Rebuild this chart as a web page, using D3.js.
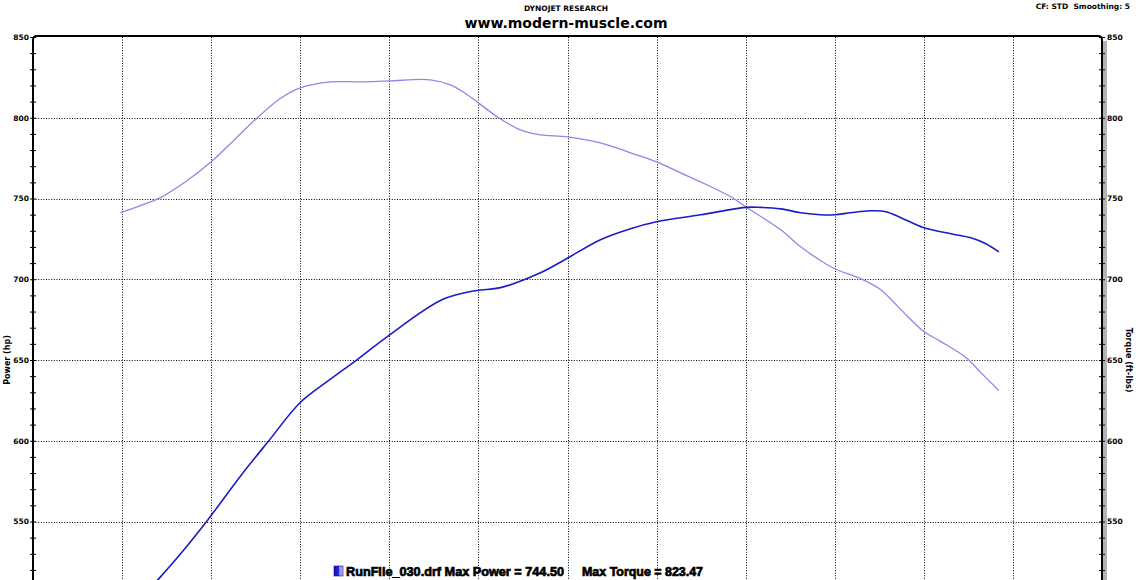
<!DOCTYPE html>
<html><head><meta charset="utf-8">
<script src="https://cdn.jsdelivr.net/npm/d3@7"></script>
<style>
body{margin:0;background:#fff}
svg{display:block;background:#fff}
text{font-family:"DejaVu Sans",Verdana,sans-serif;font-weight:bold;fill:#000}
</style>
</head><body><svg id="c" width="1140" height="580"></svg>
<script>
// ---- data ----
const torqueRpm = [1490,1600,1713,1854,2000,2135,2264,2388,2500,2669,2837,3000,3230,3343,3427,3500,3607,3736,3848,4000,4185,4354,4500,4635,4747,4916,5000,5197,5309,5421,5500,5646,5758,5871,6000,6096,6236,6320,6421];
const torqueFtLbs = [741.2,745.5,750.4,760.2,772.7,786.9,800.5,811.9,818.5,822.2,822.2,822.8,823.5,820.3,815.0,809.2,800.5,792.5,789.4,788.2,784.4,778.3,772.7,765.9,760.3,751.1,744.9,730.6,720.1,711.5,706.5,700.3,693.5,681.2,667.6,661.4,651.5,642.2,631.1];
const powerRpm = [1490,1600,1713,1826,1983,2163,2320,2500,2652,2820,2989,3298,3483,3624,3848,3994,4185,4354,4500,4747,5000,5084,5197,5309,5421,5500,5590,5702,5787,5871,6000,6152,6264,6348,6421];
const powerHp = [488.2,501.8,515.4,529.7,551.3,577.9,599.5,623.7,636.7,650.3,664.5,687.4,692.9,694.8,704.0,712.7,724.5,731.3,735.6,739.9,744.5,744.5,743.6,741.2,739.9,739.9,741.2,742.4,741.8,738.1,731.9,728.2,725.7,722.0,717.0];
const yGridTicks = [500,550,600,650,700,750,800];
const yLabelTicks = [550,600,650,700,750,800,850];
const yMinorTicks = d3.range(450, 851, 10);
const xGridTicks = [1500,2000,2500,3000,3500,4000,4500,5000,5500,6000,6500];
const titleTop = "DYNOJET RESEARCH";
const titleMain = "www.modern-muscle.com";
const cornerNote = "CF: STD  Smoothing: 5";
const legendRun = "RunFile_030.drf Max Power = 744.50";
const legendTorque = "Max Torque = 823.47";

// ---- layout ----
const L = 33, R = 1102, T = 37, B = 683;
const svg = d3.select("#c");
const x = d3.scaleLinear().domain([1000, 7000]).range([L, R]);
const y = d3.scaleLinear().domain([450, 850]).range([B, T]);

// titles
svg.append("text").attr("x", 566).attr("y", 11).attr("text-anchor", "middle")
  .style("font-size", "7.5px").text(titleTop);
svg.append("text").attr("x", 566).attr("y", 28).attr("text-anchor", "middle")
  .style("font-size", "14px").text(titleMain);
svg.append("text").attr("x", 1130).attr("y", 9).attr("text-anchor", "end")
  .style("font-size", "7.5px").style("white-space", "pre").text(cornerNote);

// grid
const grid = svg.append("g").attr("stroke", "#000").attr("stroke-width", 1)
  .attr("stroke-dasharray", "1,1.6");
grid.selectAll("line.h").data(yGridTicks).join("line").attr("class", "h")
  .attr("x1", L).attr("x2", R)
  .attr("y1", d => Math.round(y(d)) + 0.5).attr("y2", d => Math.round(y(d)) + 0.5);
grid.selectAll("line.v").data(xGridTicks).join("line").attr("class", "v")
  .attr("x1", d => Math.round(x(d)) + 0.5).attr("x2", d => Math.round(x(d)) + 0.5)
  .attr("y1", T).attr("y2", B);

// right axis shadow
svg.append("rect").attr("x", R + 1).attr("y", T + 4).attr("width", 4).attr("height", B - T)
  .attr("fill", "#b4b4b4");

// frame: top border + axis lines with rounded corners
svg.append("path")
  .attr("d", `M${L},${B} L${L},${T + 3} Q${L},${T - 1} ${L + 4},${T - 1} L${R - 4},${T - 1} Q${R},${T - 1} ${R},${T + 3} L${R},${B}`)
  .attr("fill", "none").attr("stroke", "#000").attr("stroke-width", 2);

// axes (ticks via d3 axis)
function styleLabels(sel) {
  sel.select(".domain").remove();
  sel.selectAll("text").style("font-size", "7.5px")
    .style("font-family", '"DejaVu Sans",Verdana,sans-serif').style("font-weight", "bold");
}
const leftAxis = svg.append("g").attr("transform", `translate(${L},0)`)
  .call(d3.axisLeft(y).tickValues(yMinorTicks).tickSize(0).tickFormat(""));
leftAxis.select(".domain").remove();
leftAxis.selectAll(".tick line").attr("x1", -3).attr("x2", 3).attr("stroke", "#000").attr("stroke-width", 1);
svg.append("g").attr("transform", `translate(${L},0)`)
  .call(d3.axisLeft(y).tickValues(yLabelTicks).tickSize(0).tickPadding(4)).call(styleLabels);

const rightAxis = svg.append("g").attr("transform", `translate(${R},0)`)
  .call(d3.axisRight(y).tickValues(yMinorTicks).tickSize(0).tickFormat(""));
rightAxis.select(".domain").remove();
rightAxis.selectAll(".tick line").attr("x1", -3).attr("x2", 3).attr("stroke", "#000").attr("stroke-width", 1);
svg.append("g").attr("transform", `translate(${R},0)`)
  .call(d3.axisRight(y).tickValues(yLabelTicks).tickSize(0).tickPadding(5)).call(styleLabels);

// axis titles
svg.append("text").attr("transform", `translate(10,${(T + B) / 2}) rotate(-90)`)
  .attr("text-anchor", "middle").style("font-size", "8px").text("Power (hp)");
svg.append("text").attr("transform", `translate(1126,${(T + B) / 2}) rotate(90)`)
  .attr("text-anchor", "middle").style("font-size", "8px").text("Torque (ft-lbs)");

// curves
const line = d3.line().x(d => x(d[0])).y(d => y(d[1])).curve(d3.curveCatmullRom.alpha(0.5));
svg.append("path").datum(torqueRpm.map((r, i) => [r, torqueFtLbs[i]]))
  .attr("d", line).attr("fill", "none").attr("stroke", "#8a8ae6").attr("stroke-width", 1.3);
svg.append("path").datum(powerRpm.map((r, i) => [r, powerHp[i]]))
  .attr("d", line).attr("fill", "none").attr("stroke", "#1c1cc4").attr("stroke-width", 1.6);

// legend
const defs = svg.append("defs");
const g = defs.append("linearGradient").attr("id", "lg");
g.append("stop").attr("offset", "0%").attr("stop-color", "#1010b8");
g.append("stop").attr("offset", "55%").attr("stop-color", "#2a2ae0");
g.append("stop").attr("offset", "60%").attr("stop-color", "#8c8cf0");
g.append("stop").attr("offset", "100%").attr("stop-color", "#b0b0ff");
svg.append("rect").attr("x", 334).attr("y", 566).attr("width", 9).attr("height", 10)
  .attr("fill", "url(#lg)").attr("stroke", "#101080").attr("stroke-width", 0.6);
svg.append("text").attr("x", 346).attr("y", 576)
  .attr("textLength", 218).attr("lengthAdjust", "spacingAndGlyphs")
  .style("font-family", '"Liberation Sans",Arial,sans-serif').style("font-size", "12.5px")
  .style("font-weight", "bold").attr("stroke", "#000").attr("stroke-width", 0.7)
  .text(legendRun);
svg.append("text").attr("x", 582).attr("y", 576)
  .attr("textLength", 121).attr("lengthAdjust", "spacingAndGlyphs")
  .style("font-family", '"Liberation Sans",Arial,sans-serif').style("font-size", "12.5px")
  .style("font-weight", "bold").attr("stroke", "#000").attr("stroke-width", 0.7)
  .text(legendTorque);
</script>
</body></html>
